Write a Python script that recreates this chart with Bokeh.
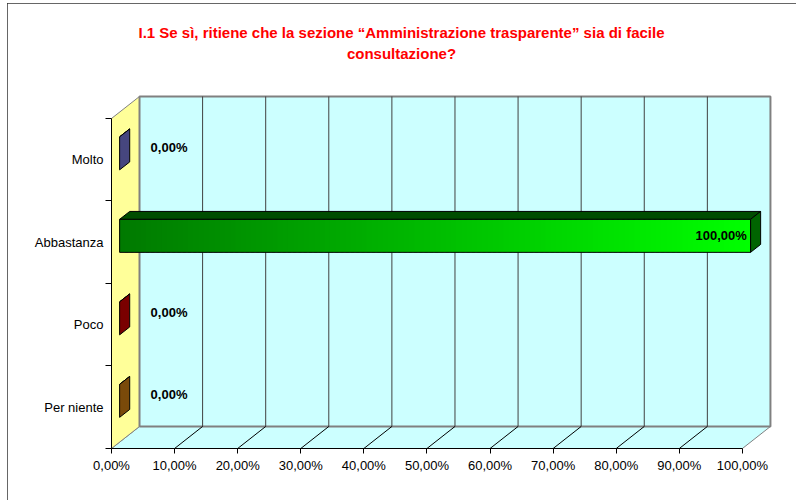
import numpy as np
from bokeh.plotting import figure
from bokeh.models import Range1d, LinearAxis, FixedTicker, ColumnDataSource
from bokeh.core.properties import value
from bokeh.embed import file_html
from bokeh.resources import INLINE

# ---------------- data ----------------
categories = ["Per niente", "Poco", "Abbastanza", "Molto"]      # bottom to top
values = [0.0, 0.0, 100.0, 0.0]                                   # percent
x_ticks = [0, 10, 20, 30, 40, 50, 60, 70, 80, 90, 100]
x_tick_labels = ["0,00%", "10,00%", "20,00%", "30,00%", "40,00%", "50,00%",
                 "60,00%", "70,00%", "80,00%", "90,00%", "100,00%"]
title_lines = ["I.1 Se sì, ritiene che la sezione “Amministrazione trasparente” sia di facile",
               "consultazione?"]

# ---------------- styles ----------------
FONT = "Liberation Sans"
front_dark = ["#5E3304", "#5C0000", "#007A00", "#30305E"]
front_light = ["#9A6410", "#9A0000", "#00FF00", "#5A5A99"]
top_colors = ["#4D2A00", "#4D0000", "#004D00", "#26264D"]
side_colors = ["#7A4A0A", "#7A0000", "#006400", "#46467F"]
WALL = "#CCFFFF"
SIDE_WALL = "#FFFF99"
EDGE = "#808080"

DX = 4.44      # depth offset in percent units
DY = 0.267     # depth offset in category units
F1, F2 = 0.29, 0.65
HALF = 0.2
N = len(categories)

p = figure(width=800, height=497, output_backend="svg", toolbar_location=None,
           x_range=Range1d(0, 105.4), y_range=Range1d(0, 5.309),
           x_axis_type=None, y_axis_type=None,
           min_border_left=104, min_border_right=31, min_border_top=7, min_border_bottom=52)
p.outline_line_color = None
p.background_fill_color = "white"
p.border_fill_color = "white"
p.styles = {"outline": "2px solid #333333", "outline-offset": "-2px",
            "margin-left": "7px", "margin-top": "3px"}

# walls
p.patch([0, 100, 100 + DX, DX], [0, 0, DY, DY], fill_color=WALL, line_color=EDGE, line_width=1)
p.patch([0, DX, DX, 0], [0, DY, N + DY, N], fill_color=SIDE_WALL, line_color=EDGE, line_width=1)
p.quad(left=[DX], right=[100 + DX], bottom=[DY], top=[N + DY],
       fill_color=WALL, line_color=EDGE, line_width=2)

inner = x_ticks[1:-1]
p.segment(x0=[t + DX for t in inner], y0=[DY] * len(inner),
          x1=[t + DX for t in inner], y1=[N + DY] * len(inner),
          line_color="#404040", line_width=1)
p.segment(x0=inner, y0=[0] * len(inner), x1=[t + DX for t in inner], y1=[DY] * len(inner),
          line_color="#000000", line_width=1)


def hex2rgb(h):
    return np.array([int(h[i:i + 2], 16) for i in (1, 3, 5)], dtype=float)


# bars
for i, (cat, v) in enumerate(zip(categories, values)):
    yc = i + 0.5
    x0f, x1f = F1 * DX, v + F1 * DX
    x0b, x1b = F2 * DX, v + F2 * DX
    y0f, y1f = yc - HALF + F1 * DY, yc + HALF + F1 * DY
    y0b, y1b = yc - HALF + F2 * DY, yc + HALF + F2 * DY
    # top face
    p.patch([x0f, x1f, x1b, x0b], [y1f, y1f, y1b, y1b],
            fill_color=top_colors[i], line_color="black", line_width=1)
    # side (end) face
    p.patch([x1f, x1f, x1b, x1b], [y0f, y1f, y1b, y0b],
            fill_color=side_colors[i], line_color="black", line_width=1)
    # front face with horizontal gradient
    if v > 0:
        n = 120
        edges = np.linspace(x0f, x1f, n + 1)
        w = edges[1] - edges[0]
        c0, c1 = hex2rgb(front_dark[i]), hex2rgb(front_light[i])
        cols = []
        for k in range(n):
            t = k / (n - 1)
            c = (c0 + (c1 - c0) * t).round().astype(int)
            cols.append("#%02x%02x%02x" % tuple(c))
        rights = np.minimum(edges[1:] + 0.6 * w, x1f)
        p.quad(left=edges[:-1], right=rights, bottom=[y0f] * n, top=[y1f] * n,
               fill_color=cols, line_color=None)
        p.quad(left=[x0f], right=[x1f], bottom=[y0f], top=[y1f],
               fill_color=None, line_color="black", line_width=1)

# value labels
lab_x, lab_y, lab_t, lab_align = [], [], [], []
for i, v in enumerate(values):
    txt = ("%.2f" % v).replace(".", ",") + "%"
    if v > 50:
        lab_x.append(v + F1 * DX - 0.6)
        lab_y.append(i + 0.5 + F1 * DY)
        lab_align.append("right")
    else:
        lab_x.append(6.2)
        lab_y.append(i + 0.5 + 0.15)
        lab_align.append("left")
    lab_t.append(txt)
src = ColumnDataSource(dict(x=lab_x, y=lab_y, t=lab_t, a=lab_align))
p.text(x="x", y="y", text="t", source=src, text_align="a", text_baseline="middle",
       text_font=value(FONT), text_font_style="bold", text_font_size="13px", text_color="black")

# title (two centred lines, above the chart area)
p.text(x=[45.96, 45.96], y=[5.042, 4.788], text=title_lines, text_align="center",
       text_baseline="middle", text_font=value(FONT), text_font_style="bold",
       text_font_size="15px", text_color="#FF0000")

# axes
xaxis = LinearAxis(ticker=FixedTicker(ticks=x_ticks, minor_ticks=[]),
                   major_label_overrides={t: l for t, l in zip(x_ticks, x_tick_labels)},
                   bounds=(0, 100))
xaxis.major_tick_out = 5
xaxis.major_tick_in = 0
xaxis.minor_tick_out = 0
xaxis.major_label_standoff = 4
xaxis.major_label_text_font = FONT
xaxis.major_label_text_font_size = "13px"
xaxis.major_label_text_color = "black"
xaxis.axis_line_color = "black"
xaxis.major_tick_line_color = "black"
p.add_layout(xaxis, "below")

centers = [i + 0.5 for i in range(N)]
yaxis = LinearAxis(ticker=FixedTicker(ticks=centers, minor_ticks=list(range(N + 1))),
                   major_label_overrides={c: l for c, l in zip(centers, categories)},
                   bounds=(0, N))
yaxis.major_tick_out = 0
yaxis.major_tick_in = 0
yaxis.minor_tick_out = 6
yaxis.minor_tick_in = 0
yaxis.major_label_standoff = 2
yaxis.major_label_text_font = FONT
yaxis.major_label_text_font_size = "13px"
yaxis.major_label_text_color = "black"
yaxis.axis_line_color = "black"
yaxis.minor_tick_line_color = "black"
p.add_layout(yaxis, "left")

open("out.html", "w").write(file_html(p, INLINE))
